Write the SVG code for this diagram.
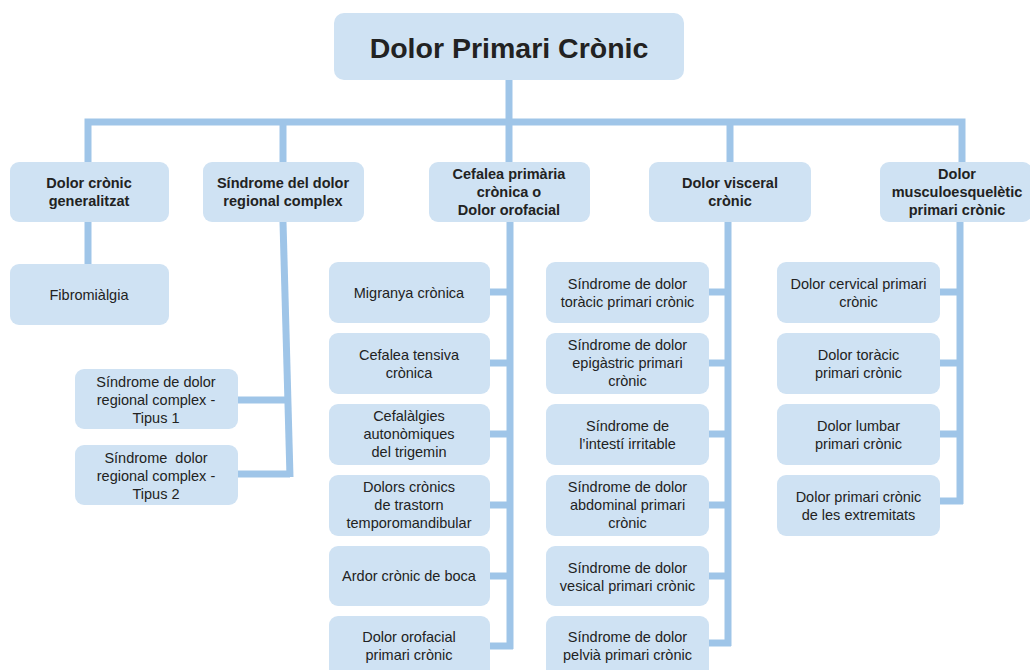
<svg xmlns="http://www.w3.org/2000/svg" width="1030" height="670" viewBox="0 0 1030 670">
<style>
.box{fill:#cfe2f3;}
.c{fill:none;stroke:#9fc5e8;stroke-width:7;stroke-linejoin:miter;stroke-linecap:butt;}
text{font-family:"Liberation Sans",Arial,sans-serif;fill:#222;text-anchor:middle;}
.t0{font-size:28.5px;font-weight:bold;}
.t1{font-size:14.5px;font-weight:bold;}
.t2{font-size:14.5px;}
</style>
<rect width="1030" height="670" fill="#ffffff"/>
<g id="connectors">
<path class="c" d="M509,80 V162"/>
<path class="c" d="M88,162 V122 H962 V162"/>
<path class="c" d="M283,122 V162"/>
<path class="c" d="M730,122 V162"/>
<path class="c" d="M88,222 V264"/>
<path class="c" d="M283,222 L290,477"/>
<path class="c" d="M238,400 H288"/>
<path class="c" d="M238,474 H290"/>
<path class="c" d="M510,222 V649"/>
<path class="c" d="M490,292 H510 M490,363 H510 M490,434 H510 M490,505 H510 M490,576 H510 M490,646 H513"/>
<path class="c" d="M728,222 V646"/>
<path class="c" d="M709,292 H728 M709,363 H728 M709,434 H728 M709,505 H728 M709,576 H728 M709,643 H731"/>
<path class="c" d="M960,222 V504"/>
<path class="c" d="M940,292 H960 M940,363 H960 M940,434 H960 M940,501 H963"/>
</g>
<g id="root"><rect class="box" x="334" y="13" width="350" height="67" rx="10"/><text class="t0" x="509" y="58">Dolor Primari Crònic</text></g>
<g id="n1"><rect class="box" x="10" y="162" width="159" height="60" rx="9"/><text class="t1" x="89" y="188">Dolor crònic</text><text class="t1" x="89" y="206">generalitzat</text></g>
<g id="n2"><rect class="box" x="203" y="162" width="161" height="60" rx="9"/><text class="t1" x="283" y="188">Síndrome del dolor</text><text class="t1" x="283" y="206">regional complex</text></g>
<g id="n3"><rect class="box" x="429" y="162" width="161" height="60" rx="9"/><text class="t1" x="509" y="179">Cefalea primària</text><text class="t1" x="509" y="197">crònica o</text><text class="t1" x="509" y="215">Dolor orofacial</text></g>
<g id="n4"><rect class="box" x="649" y="162" width="162" height="60" rx="9"/><text class="t1" x="730" y="188">Dolor visceral</text><text class="t1" x="730" y="206">crònic</text></g>
<g id="n5"><rect class="box" x="880" y="162" width="152" height="60" rx="9"/><text class="t1" x="957" y="179">Dolor</text><text class="t1" x="957" y="197">musculoesquelètic</text><text class="t1" x="957" y="215">primari crònic</text></g>
<g id="fibromialgia"><rect class="box" x="10" y="264" width="159" height="61" rx="9"/><text class="t2" x="89" y="299.5">Fibromiàlgia</text></g>
<g id="crps1"><rect class="box" x="75" y="369" width="163" height="60" rx="9"/><text class="t2" x="156" y="386.5">Síndrome de dolor</text><text class="t2" x="156" y="404.5">regional complex -</text><text class="t2" x="156" y="422.5">Tipus 1</text></g>
<g id="crps2"><rect class="box" x="75" y="445" width="163" height="60" rx="9"/><text class="t2" x="156" y="462.5" style="white-space:pre">Síndrome  dolor</text><text class="t2" x="156" y="480.5">regional complex -</text><text class="t2" x="156" y="498.5">Tipus 2</text></g>
<g id="c3r1"><rect class="box" x="329" y="262" width="161" height="61" rx="9"/><text class="t2" x="409" y="297.5">Migranya crònica</text></g>
<g id="c3r2"><rect class="box" x="329" y="333" width="161" height="61" rx="9"/><text class="t2" x="409" y="359.5">Cefalea tensiva</text><text class="t2" x="409" y="377.5">crònica</text></g>
<g id="c3r3"><rect class="box" x="329" y="404" width="161" height="61" rx="9"/><text class="t2" x="409" y="421">Cefalàlgies</text><text class="t2" x="409" y="439">autonòmiques</text><text class="t2" x="409" y="457">del trigemin</text></g>
<g id="c3r4"><rect class="box" x="329" y="475" width="161" height="61" rx="9"/><text class="t2" x="409" y="492">Dolors crònics</text><text class="t2" x="409" y="510">de trastorn</text><text class="t2" x="409" y="528">temporomandibular</text></g>
<g id="c3r5"><rect class="box" x="329" y="546" width="161" height="60" rx="9"/><text class="t2" x="409" y="581">Ardor crònic de boca</text></g>
<g id="c3r6"><rect class="box" x="329" y="616" width="161" height="62" rx="9"/><text class="t2" x="409" y="642">Dolor orofacial</text><text class="t2" x="409" y="660">primari crònic</text></g>
<g id="c4r1"><rect class="box" x="546" y="262" width="163" height="61" rx="9"/><text class="t2" x="627.5" y="288.5">Síndrome de dolor</text><text class="t2" x="627.5" y="306.5">toràcic primari crònic</text></g>
<g id="c4r2"><rect class="box" x="546" y="333" width="163" height="61" rx="9"/><text class="t2" x="627.5" y="350">Síndrome de dolor</text><text class="t2" x="627.5" y="368">epigàstric primari</text><text class="t2" x="627.5" y="386">crònic</text></g>
<g id="c4r3"><rect class="box" x="546" y="404" width="163" height="61" rx="9"/><text class="t2" x="627.5" y="430.5">Síndrome de</text><text class="t2" x="627.5" y="448.5">l’intestí irritable</text></g>
<g id="c4r4"><rect class="box" x="546" y="475" width="163" height="61" rx="9"/><text class="t2" x="627.5" y="492">Síndrome de dolor</text><text class="t2" x="627.5" y="510">abdominal primari</text><text class="t2" x="627.5" y="528">crònic</text></g>
<g id="c4r5"><rect class="box" x="546" y="546" width="163" height="60" rx="9"/><text class="t2" x="627.5" y="572.5">Síndrome de dolor</text><text class="t2" x="627.5" y="590.5">vesical primari crònic</text></g>
<g id="c4r6"><rect class="box" x="546" y="616" width="163" height="62" rx="9"/><text class="t2" x="627.5" y="642">Síndrome de dolor</text><text class="t2" x="627.5" y="660">pelvià primari crònic</text></g>
<g id="c5r1"><rect class="box" x="777" y="262" width="163" height="61" rx="9"/><text class="t2" x="858.5" y="288.5">Dolor cervical primari</text><text class="t2" x="858.5" y="306.5">crònic</text></g>
<g id="c5r2"><rect class="box" x="777" y="333" width="163" height="61" rx="9"/><text class="t2" x="858.5" y="359.5">Dolor toràcic</text><text class="t2" x="858.5" y="377.5">primari crònic</text></g>
<g id="c5r3"><rect class="box" x="777" y="404" width="163" height="61" rx="9"/><text class="t2" x="858.5" y="430.5">Dolor lumbar</text><text class="t2" x="858.5" y="448.5">primari crònic</text></g>
<g id="c5r4"><rect class="box" x="777" y="475" width="163" height="61" rx="9"/><text class="t2" x="858.5" y="501.5">Dolor primari crònic</text><text class="t2" x="858.5" y="519.5">de les extremitats</text></g>
</svg>
